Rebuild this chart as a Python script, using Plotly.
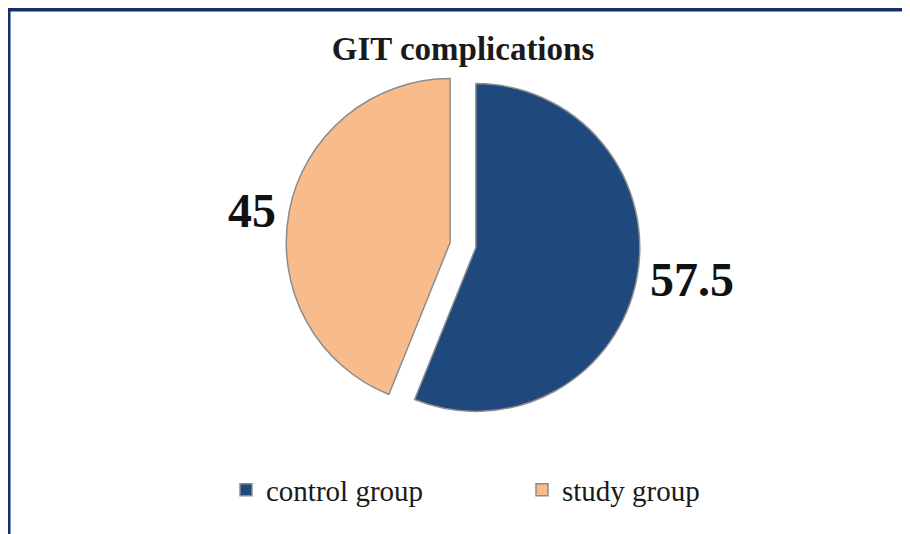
import plotly.graph_objects as go

labels = ["control group", "study group"]
values = [57.5, 45]
colors = ["#1F497D", "#F8BC8C"]
title_text = "GIT complications"

W, H = 910, 534
ml, mr, mt, mb = 20, 20, 60, 120
pw, ph = W - ml - mr, H - mt - mb

def px_x(p):
    return (p - ml) / pw

def px_y(p):
    return (H - mb - p) / ph

fig = go.Figure(go.Pie(
    labels=labels,
    values=values,
    sort=False,
    direction="clockwise",
    rotation=0,
    pull=[0.08, 0.08],
    marker=dict(colors=colors, line=dict(color="#8C8C8C", width=1.5)),
    texttemplate="<b>%{value}</b>",
    textposition="outside",
    textfont=dict(family="Liberation Serif", size=48, color="#111111"),
    domain=dict(x=[0, 1], y=[0, 1]),
))

fig.update_layout(
    width=W, height=H,
    margin=dict(l=ml, r=mr, t=mt, b=mb, autoexpand=False),
    paper_bgcolor="white",
    title=dict(text="<b>" + title_text + "</b>", x=0.5, xanchor="center",
               y=1 - 40 / H, yanchor="middle",
               font=dict(family="Liberation Serif", size=33, color="#1a1a1a")),
    legend=dict(orientation="h", x=px_x(218), xanchor="left", y=px_y(482), yanchor="middle",
                font=dict(family="Liberation Serif", size=29, color="#1a1a1a"),
                itemwidth=30, entrywidth=251, entrywidthmode="pixels"),
    showlegend=True,
    shapes=[dict(type="rect", xref="paper", yref="paper",
                 x0=px_x(0), x1=px_x(960), y0=px_y(620), y1=px_y(1),
                 line=dict(color="#13306B", width=5), fillcolor="rgba(0,0,0,0)", layer="above")],
)

fig.write_html("out.html")
